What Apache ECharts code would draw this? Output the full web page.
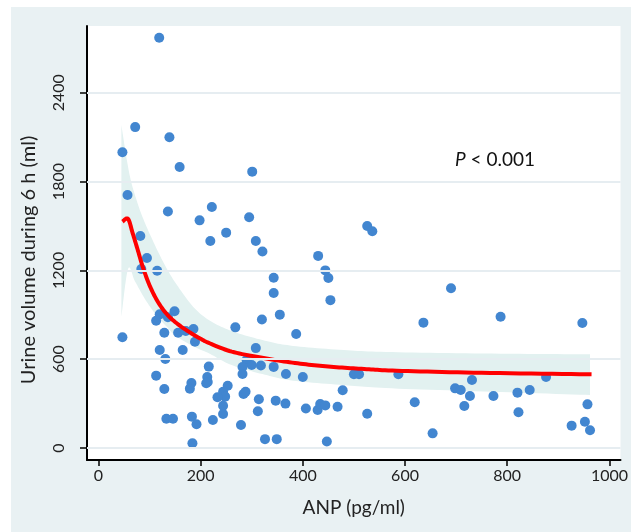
<!DOCTYPE html>
<html>
<head>
<meta charset="utf-8">
<script src="https://cdn.jsdelivr.net/npm/echarts@6/dist/echarts.min.js"></script>
<style>
html,body{margin:0;padding:0;background:#ffffff;width:631px;height:532px;overflow:hidden;}
#c{position:absolute;left:11px;top:7px;width:620px;height:525px;}
</style>
</head>
<body>
<div id="c"></div>
<script>
// Scatter data: ANP (pg/ml) and urine volume during 6 h (ml)
const anp = [119,72,139,47,159,301,57,222,136,198,295,526,536,250,82,219,308,321,430,95,
  84,115,444,343,450,690,343,454,149,120,355,787,136,113,320,947,636,268,156,129,
  171,186,387,47,189,308,120,165,131,290,300,282,216,318,343,282,367,113,400,500,
  510,587,876,731,213,214,211,182,179,129,253,244,248,233,244,244,284,288,314,312,
  347,366,406,429,434,444,468,478,526,619,654,698,709,727,716,773,820,844,822,957,
  926,952,962,133,146,183,192,224,279,184,326,349,447];
const urine = [2772,2168,2099,1998,1899,1867,1709,1628,1598,1538,1559,1500,1464,1455,1432,1399,1399,1328,1298,1284,
  1209,1198,1200,1150,1148,1079,1047,999,924,903,901,887,883,860,868,845,847,815,779,779,
  791,804,770,748,718,675,662,662,601,595,561,547,550,558,548,500,500,489,480,498,
  498,498,480,459,480,446,437,439,401,399,421,380,347,343,286,230,365,380,329,248,
  320,300,267,257,297,288,279,390,232,309,99,403,392,351,284,351,374,392,241,295,
  151,178,120,198,198,212,160,189,155,32,60,60,44];

// Fitted curve
const fitAnp = [47,58,67,77,87,100,116,135,158,184,200,216,261,326,390,455,520,584,750,965];
const fitUrine = [1529,1548,1452,1338,1222,1100,990,900,830,770,738,710,651,606,572,549,534,522,508,498];

// Confidence band
const upperAnp = [45,55,64,77,87,100,119,135,152,184,216,261,326,381,480,574,770,962];
const upperUrine = [2182,1960,1800,1650,1555,1450,1310,1205,1110,960,865,790,725,690,662,648,638,633];
const lowerAnp = [45,58,71,87,100,116,135,152,190,216,261,326,381,480,574,770,962];
const lowerUrine = [887,1210,1130,1030,960,885,815,755,680,640,560,495,455,425,403,380,358];

// Tick values
const xTicks = [0,200,400,600,800,1000];
const yTicks = [0,600,1200,1800,2400];

const points = anp.map((a,i)=>[a, urine[i]]);
const fit = fitAnp.map((a,i)=>[a, fitUrine[i]]);

// Catmull-Rom sampling in screen space, only to draw a smooth outline
function smoothOutline(pts){
  const out = [];
  const n = pts.length;
  for (let i = 0; i < n - 1; i++) {
    const p0 = pts[Math.max(i-1,0)], p1 = pts[i], p2 = pts[i+1], p3 = pts[Math.min(i+2,n-1)];
    const steps = 12;
    for (let s = 0; s < steps; s++) {
      const t = s/steps, t2 = t*t, t3 = t2*t;
      const f = (a,b,c,d)=>0.5*((2*b)+(-a+c)*t+(2*a-5*b+4*c-d)*t2+(-a+3*b-3*c+d)*t3);
      out.push([f(p0[0],p1[0],p2[0],p3[0]), f(p0[1],p1[1],p2[1],p3[1])]);
    }
  }
  out.push(pts[n-1]);
  return out;
}

function renderBand(params, api){
  const up = upperAnp.map((a,i)=>api.coord([a, upperUrine[i]]));
  const lo = lowerAnp.map((a,i)=>api.coord([a, lowerUrine[i]]));
  const outline = smoothOutline(up).concat(smoothOutline(lo).reverse());
  return {type:'polygon', shape:{points:outline}, style:{fill:'#e2f1f0', stroke:null}};
}

function renderFit(params, api){
  const pts = fitAnp.map((a,i)=>api.coord([a, fitUrine[i]]));
  return {type:'polyline', shape:{points:smoothOutline(pts)},
    style:{stroke:'#ff0000', lineWidth:4, fill:null, lineJoin:'round', lineCap:'butt'}};
}

const FONT = 'Lato';
const chart = echarts.init(document.getElementById('c'), null, {renderer:'canvas'});
chart.setOption({
  animation:false,
  backgroundColor:'#e9f1f3',
  grid:{left:76, right:5, top:19, bottom:72, show:true, backgroundColor:'#ffffff', borderWidth:0},
  xAxis:{
    type:'value', min:-22.3, max:1021.7,
    axisLine:{show:true, onZero:false, lineStyle:{color:'#000', width:2}},
    axisTick:{show:true, customValues:xTicks, length:6, lineStyle:{color:'#000', width:1.5}},
    axisLabel:{customValues:xTicks, margin:8, fontSize:16, color:'#222', fontFamily:FONT, formatter:v=>String(v)},
    splitLine:{show:false},
    name:'ANP (pg/ml)', nameLocation:'middle', nameGap:38,
    nameTextStyle:{fontSize:19, color:'#222', fontFamily:FONT}
  },
  yAxis:{
    type:'value', min:-81, max:2851,
    axisLine:{show:true, onZero:false, lineStyle:{color:'#000', width:2}},
    axisTick:{show:true, customValues:yTicks, length:7, lineStyle:{color:'#000', width:1.5}},
    axisLabel:{customValues:yTicks, rotate:90, margin:20, fontSize:16, color:'#222', fontFamily:FONT, formatter:v=>String(v)},
    splitLine:{show:false},
    name:'Urine volume during 6 h (ml)', nameLocation:'middle', nameGap:48,
    nameTextStyle:{fontSize:20, color:'#222', fontFamily:FONT, padding:[0,34,0,0]}
  },
  graphic:[{
    type:'text', left:444, top:143,
    style:{
      text:'{i|P} < 0.001',
      rich:{i:{fontStyle:'italic', fontSize:19, fontFamily:FONT, fill:'#111'}},
      fontSize:19, fontFamily:FONT, fill:'#111'
    }
  }],
  series:[
    {
      name:'gridlines', type:'line', data:[], z:0, silent:true,
      markLine:{
        silent:true, symbol:'none', label:{show:false},
        lineStyle:{color:'#e6edf1', width:2, type:'solid'},
        data:yTicks.map(v=>({yAxis:v}))
      }
    },
    {
      name:'band', type:'custom', renderItem:renderBand,
      data:[[upperAnp[0], upperUrine[0]]], z:1, silent:true, clip:true
    },
    {
      name:'points', type:'scatter', data:points, symbolSize:10,
      itemStyle:{color:'#4286d0', opacity:1}, z:3
    },
    {
      name:'fit', type:'custom', renderItem:renderFit,
      data:[[fitAnp[0], fitUrine[0]]], z:4, silent:true, clip:true
    }
  ]
});
</script>
</body>
</html>
